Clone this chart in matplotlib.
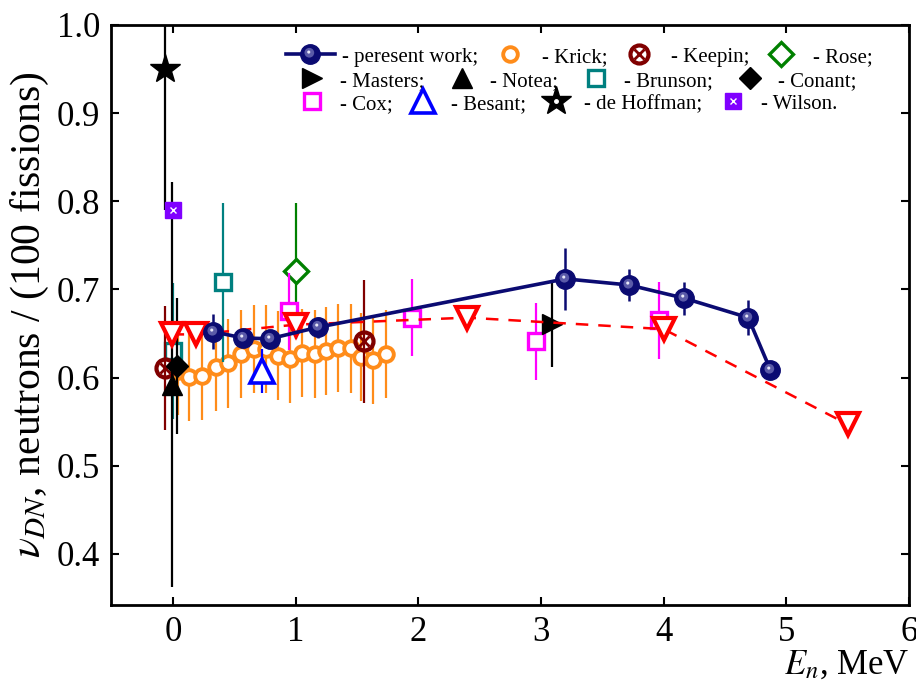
import numpy as np
import matplotlib
matplotlib.use("Agg")
import matplotlib.pyplot as plt
from matplotlib.path import Path
from matplotlib.lines import Line2D
from matplotlib.legend_handler import HandlerTuple

plt.rcParams['font.family'] = ['Liberation Serif', 'DejaVu Serif']
plt.rcParams['mathtext.fontset'] = 'stix'

# present work
pw_e = [0.33, 0.57, 0.79, 1.18, 3.20, 3.72, 4.17, 4.69, 4.87]
pw_v = [0.652, 0.645, 0.644, 0.657, 0.712, 0.705, 0.690, 0.668, 0.609]
pw_err = [0.020, 0.0, 0.0, 0.012, 0.035, 0.018, 0.019, 0.020, 0.0]

# evaluation curve (red triangles, dashed)
ev_e = [-0.01, 0.19, 1.00, 2.40, 4.00, 5.50]
ev_v = [0.649, 0.649, 0.660, 0.668, 0.655, 0.547]

# other measurements
krick_e = [0.04, 0.13, 0.24, 0.35, 0.45, 0.555, 0.66, 0.76, 0.86, 0.955,
           1.05, 1.16, 1.25, 1.35, 1.45, 1.53, 1.63, 1.74]
krick_v = [0.607, 0.601, 0.602, 0.612, 0.616, 0.627, 0.632, 0.632, 0.625, 0.621,
           0.628, 0.627, 0.630, 0.634, 0.633, 0.623, 0.620, 0.627]
krick_err = [0.05] * len(krick_e)

keepin_e, keepin_v, keepin_err = [-0.06, 1.56], [0.611, 0.641], [0.07, 0.07]
rose_e, rose_v, rose_err = [1.0], [0.721], [0.077]
masters_e, masters_v, masters_err = [3.09], [0.661], [0.049]
notea_e, notea_v, notea_err = [-0.01], [0.592], [0.23]
brunson_e, brunson_v, brunson_err = [0.0, 0.41], [0.630, 0.708], [0.077, 0.09]
conant_e, conant_v, conant_err = [0.035], [0.613], [0.077]
cox_e = [0.95, 1.95, 2.96, 3.96]
cox_v = [0.675, 0.668, 0.641, 0.665]
cox_err = [0.044, 0.044, 0.044, 0.044]
besant_e, besant_v, besant_err = [0.73], [0.607], [0.025]
hoff_e, hoff_v, hoff_err = [-0.06], [0.95], [0.16]
wilson_e, wilson_v = [0.0], [0.79]

NAVY = '#0b0b72'


def spot(cx, cy, r):
    # off-centre highlight used as a marker (anchor points keep the scale)
    anchor = Path([(-1, -1), (1, 1)], [Path.MOVETO, Path.MOVETO])
    return Path.make_compound_path(anchor, Path.circle((cx, cy), r))


HL1 = spot(-0.12, 0.18, 0.5)
HL2 = spot(-0.18, 0.25, 0.16)

fig = plt.figure(figsize=(9.16, 7), dpi=100)
ax = fig.add_axes([0.1217, 0.1357, 0.8706, 0.8286])

eb = dict(capsize=0, elinewidth=1.6, linestyle='none')

ax.errorbar(krick_e, krick_v, yerr=krick_err, color='#ff8c1a', marker='o', ms=10.5,
            mfc='white', mec='#ff8c1a', mew=2.8, zorder=2, **eb)
ax.errorbar(brunson_e, brunson_v, yerr=brunson_err, color='#008080', marker='s', ms=11,
            mfc='white', mec='#008080', mew=2.4, zorder=2.1, **eb)
ax.errorbar(rose_e, rose_v, yerr=rose_err, color='#008000', marker='D', ms=12,
            mfc='white', mec='#008000', mew=2.4, zorder=2.1, **eb)
ax.errorbar(cox_e, cox_v, yerr=cox_err, color='#ff00ff', marker='s', ms=11,
            mfc='white', mec='#ff00ff', mew=2.4, zorder=2.2, **eb)
ax.errorbar(keepin_e, keepin_v, yerr=keepin_err, color='#800000', marker='o', ms=13,
            mfc='none', mec='#800000', mew=3, zorder=2.3, **eb)
ax.plot(keepin_e, keepin_v, linestyle='none', marker='x', ms=7, mec='#800000', mew=2, zorder=2.3)
ax.errorbar(besant_e, besant_v, yerr=besant_err, color='#0000ff', marker='^', ms=17,
            mfc='white', mec='#0000ff', mew=2.6, zorder=2.3, **eb)
ax.errorbar(notea_e, notea_v, yerr=notea_err, color='black', marker='^', ms=14,
            mfc='black', mec='black', zorder=2.4, **eb)
ax.errorbar(conant_e, conant_v, yerr=conant_err, color='black', marker='D', ms=11,
            mfc='black', mec='black', zorder=2.4, **eb)
ax.errorbar(masters_e, masters_v, yerr=masters_err, color='black', marker='>', ms=15,
            mfc='black', mec='black', zorder=2.4, **eb)
ax.errorbar(hoff_e, hoff_v, yerr=hoff_err, color='black', marker='*', ms=22,
            mfc='black', mec='black', zorder=2.4, **eb)
ax.plot(hoff_e, hoff_v, linestyle='none', marker='o', ms=2.5, mfc='white', mec='white', zorder=2.45)
ax.plot(wilson_e, wilson_v, linestyle='none', marker='s', ms=12, mfc='#8000ff',
        mec='#8000ff', zorder=2.5)
ax.plot(wilson_e, wilson_v, linestyle='none', marker='x', ms=5, mec='white', mew=1, zorder=2.55)

# evaluation curve
ax.plot(ev_e, ev_v, color='#ff0000', linestyle=(0, (5, 4)), lw=1.8, marker='v', ms=16,
        mfc='white', mec='#ff0000', mew=3, zorder=3)

# present work
ax.errorbar(pw_e, pw_v, yerr=pw_err, color=NAVY, lw=2.6, marker='o', ms=14,
            mfc=NAVY, mec=NAVY, capsize=0, elinewidth=1.8, zorder=4)
ax.plot(pw_e, pw_v, linestyle='none', marker=HL1, ms=14, mfc='#5a5aa8', mew=0, zorder=4.1)
ax.plot(pw_e, pw_v, linestyle='none', marker=HL2, ms=14, mfc='#e8e8f8', mew=0, zorder=4.2)

ax.set_xlim(-0.5, 6)
ax.set_ylim(0.342, 1.0)
ax.set_xticks(range(0, 7))
ax.set_yticks([0.4, 0.5, 0.6, 0.7, 0.8, 0.9, 1.0])
ax.set_yticklabels([f'{t:.1f}' for t in [0.4, 0.5, 0.6, 0.7, 0.8, 0.9, 1.0]])
ax.tick_params(direction='in', top=True, right=True, length=6, width=1.5,
               labelsize=25, pad=8)
for s in ax.spines.values():
    s.set_linewidth(2)

ax.set_xlabel(r'$E_n$, MeV', fontsize=25, loc='right', labelpad=0)
ax.set_ylabel(r'$\nu_{DN}$, neutrons / (100 fissions)', fontsize=30, labelpad=4)

# legend: three rows, each its own flow
pw_handle = (Line2D([], [], color=NAVY, lw=2.6, marker='o', ms=14, mfc=NAVY, mec=NAVY),
             Line2D([], [], ls='none', marker=HL1, ms=14, mfc='#5a5aa8', mew=0),
             Line2D([], [], ls='none', marker=HL2, ms=14, mfc='#e8e8f8', mew=0))
krick_h = Line2D([], [], ls='none', marker='o', ms=10.5, mfc='white', mec='#ff8c1a', mew=2.8)
keepin_h = (Line2D([], [], ls='none', marker='o', ms=13, mfc='none', mec='#800000', mew=3),
            Line2D([], [], ls='none', marker='x', ms=7, mec='#800000', mew=2))
rose_h = Line2D([], [], ls='none', marker='D', ms=12, mfc='white', mec='#008000', mew=2.4)
masters_h = Line2D([], [], ls='none', marker='>', ms=15, color='black')
notea_h = Line2D([], [], ls='none', marker='^', ms=14, color='black')
brunson_h = Line2D([], [], ls='none', marker='s', ms=11, mfc='white', mec='#008080', mew=2.4)
conant_h = Line2D([], [], ls='none', marker='D', ms=11, color='black')
cox_h = Line2D([], [], ls='none', marker='s', ms=11, mfc='white', mec='#ff00ff', mew=2.4)
besant_h = Line2D([], [], ls='none', marker='^', ms=17, mfc='white', mec='#0000ff', mew=2.6)
hoff_h = (Line2D([], [], ls='none', marker='*', ms=22, color='black'),
          Line2D([], [], ls='none', marker='o', ms=2.5, mfc='white', mec='white'))
wilson_h = (Line2D([], [], ls='none', marker='s', ms=12, mfc='#8000ff', mec='#8000ff'),
            Line2D([], [], ls='none', marker='x', ms=5, mec='white', mew=1))

rows = [
    ([pw_handle, krick_h, keepin_h, rose_h],
     ['- peresent work;', '- Krick;', '- Keepin;', '- Rose;'], 286, 57, 2.35, 0.35),
    ([masters_h, notea_h, brunson_h, conant_h],
     ['- Masters;', '- Notea;', '- Brunson;', '- Conant;'], 291, 81, 2.0, 0.8),
    ([cox_h, besant_h, hoff_h, wilson_h],
     ['- Cox;', '- Besant;', '- de Hoffman;', '- Wilson.'], 291, 104, 2.0, 0.45),
]
for handles, labels, px, py, hl, cs in rows:
    fig.legend(handles, labels, ncol=4, loc='center left',
               bbox_to_anchor=(px / 916, 1 - py / 700),
               frameon=False, fontsize=15, borderpad=0, borderaxespad=0,
               handlelength=hl, handletextpad=0.35, columnspacing=cs,
               handler_map={tuple: HandlerTuple(ndivide=1)})

fig.savefig('out.png', dpi=100)
